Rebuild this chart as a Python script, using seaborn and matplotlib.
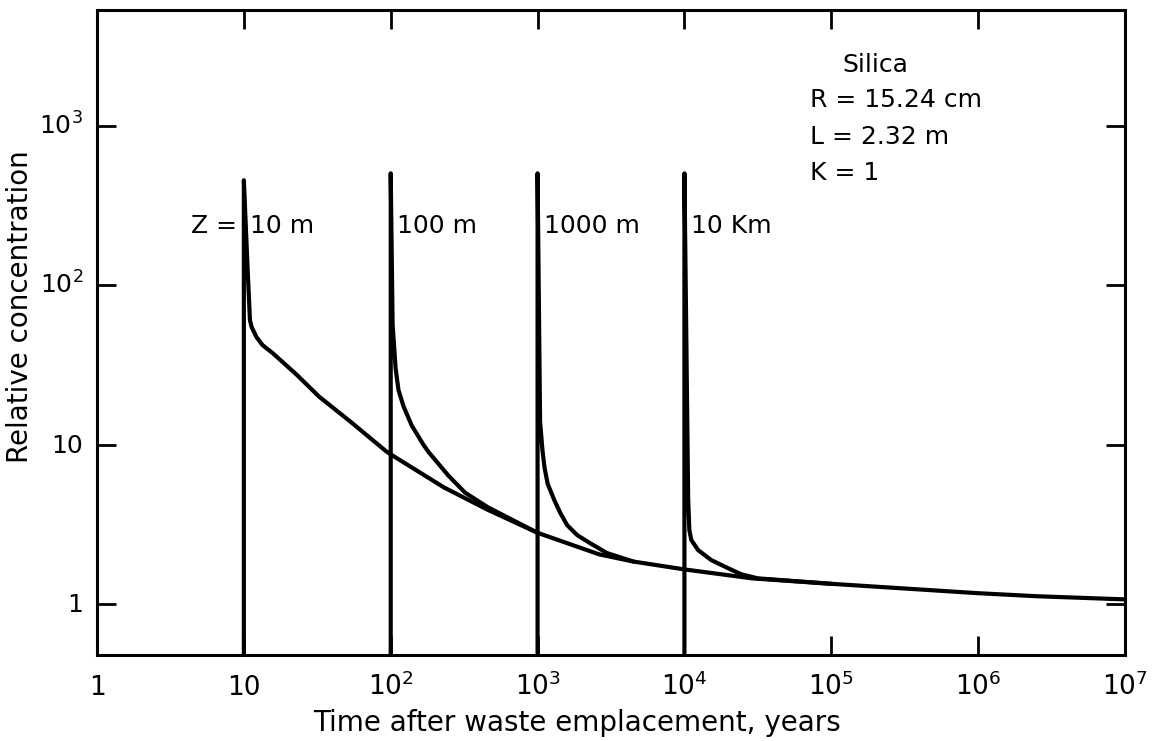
import matplotlib
matplotlib.use("Agg")
import matplotlib.pyplot as plt
import matplotlib.transforms as mtransforms
from matplotlib.ticker import NullLocator
import pandas as pd
import seaborn as sns

# Relative concentration vs. time after emplacement, one curve per depth Z.
# Each curve rises as a sharp front at its arrival time, then decays onto the
# common long-time tail (carried by the Z = 10 m curve).
t_10m = [10, 10, 10.6, 11.0, 11.3, 12.2, 13.4, 15.7, 22.8, 32.6, 54, 93, 100,
         230, 459, 1000, 2630, 4470, 1e4, 2.88e4, 1e5, 1e6, 2.5e6, 1e7]
c_10m = [0.3, 457, 129, 60.5, 54.7, 47.3, 42.2, 37.6, 27.6, 20.0, 13.8, 9.1, 8.7,
         5.4, 3.9, 2.8, 2.05, 1.85, 1.65, 1.45, 1.34, 1.17, 1.12, 1.07]

t_100m = [100, 100, 103, 108, 113, 122, 139, 167, 181, 247, 321, 459, 1000]
c_100m = [0.3, 505, 57, 30, 22, 17.5, 13.2, 10.0, 9.0, 6.4, 5.0, 4.05, 2.8]

t_1000m = [1000, 1000, 1040, 1080, 1115, 1170, 1300, 1430, 1590, 1860, 2280, 2970, 4470]
c_1000m = [0.3, 505, 14, 9.2, 7.2, 5.7, 4.49, 3.72, 3.13, 2.71, 2.41, 2.09, 1.85]

t_10km = [1e4, 1e4, 1.06e4, 1.08e4, 1.115e4, 1.24e4, 1.52e4, 1.98e4, 2.43e4, 3.16e4, 1e5]
c_10km = [0.3, 505, 4.65, 2.91, 2.52, 2.18, 1.89, 1.68, 1.54, 1.45, 1.34]

depth_labels = ["10 m", "100 m", "1000 m", "10 Km"]
arrival_times = [10, 100, 1000, 1e4]

params_lines = ["Silica", "R = 15.24 cm", "L = 2.32 m", "K = 1"]

x_ticks = [1, 10, 1e2, 1e3, 1e4, 1e5, 1e6, 1e7]
x_tick_labels = ["1", "10", "$10^2$", "$10^3$", "$10^4$", "$10^5$", "$10^6$", "$10^7$"]
y_ticks = [1, 10, 1e2, 1e3]
y_tick_labels = ["1", "10", "$10^2$", "$10^3$"]

sns.set_theme(style="ticks")
plt.rcParams["font.family"] = ["DejaVu Sans"]
plt.rcParams["mathtext.fontset"] = "dejavusans"
plt.rcParams["text.color"] = "black"
plt.rcParams["axes.labelcolor"] = "black"
plt.rcParams["xtick.color"] = "black"
plt.rcParams["ytick.color"] = "black"

frames = []
for name, t, c in [("10 m", t_10m, c_10m), ("100 m", t_100m, c_100m),
                   ("1000 m", t_1000m, c_1000m), ("10 Km", t_10km, c_10km)]:
    frames.append(pd.DataFrame({"t": t, "c": c, "Z": name}))
df = pd.concat(frames, ignore_index=True)

fig, ax = plt.subplots(figsize=(11.56, 7.41), dpi=100)
fig.subplots_adjust(left=97 / 1156, right=1125 / 1156,
                    bottom=1 - 655 / 741, top=1 - 10 / 741)
ax.set_xscale("log")
ax.set_yscale("log")

sns.lineplot(data=df, x="t", y="c", units="Z", estimator=None, sort=False,
             color="black", linewidth=3.0, ax=ax, legend=False)

ax.set_xlim(1, 1e7)
ax.set_ylim(0.479, 5350)

for side in ["left", "right", "top", "bottom"]:
    ax.spines[side].set_visible(True)
    ax.spines[side].set_linewidth(2.2)
    ax.spines[side].set_color("black")

ax.set_xticks(x_ticks)
ax.set_xticklabels(x_tick_labels)
ax.set_yticks(y_ticks)
ax.set_yticklabels(y_tick_labels)
ax.xaxis.set_minor_locator(NullLocator())
ax.yaxis.set_minor_locator(NullLocator())

ax.tick_params(which="major", direction="in", length=14, width=2,
               top=True, right=True, labelsize=19)
ax.tick_params(axis="x", pad=29)
ax.tick_params(axis="y", pad=10, labelsize=18)
for lbl in ax.get_xticklabels():
    lbl.set_verticalalignment("baseline")
shift = mtransforms.ScaledTranslation(0, -6 / 72, fig.dpi_scale_trans)
for lbl in ax.get_yticklabels():
    lbl.set_verticalalignment("baseline")
    lbl.set_transform(lbl.get_transform() + shift)

ax.set_xlabel("Time after waste emplacement, years", fontsize=20)
ax.xaxis.set_label_coords(0.467, -0.106)
ax.xaxis.label.set_verticalalignment("center")
ax.set_ylabel("Relative concentration", fontsize=20)
ax.yaxis.set_label_coords(-0.075, 0.54)
ax.yaxis.label.set_verticalalignment("center")

# depth labels beside each arrival front
ax.text(arrival_times[0] / 1.12, 236, "Z =", fontsize=18, ha="right", va="center")
for t0, lab in zip(arrival_times, depth_labels):
    ax.text(t0 * 1.1, 236, lab, fontsize=18, ha="left", va="center")

# parameter block
ax.text(0.725, 0.915, params_lines[0], fontsize=18, ha="left", va="center",
        transform=ax.transAxes)
for yy, line in zip([0.860, 0.803, 0.747], params_lines[1:]):
    ax.text(0.694, yy, line, fontsize=18, ha="left", va="center",
            transform=ax.transAxes)

fig.savefig("out.png", dpi=100, facecolor="white")
